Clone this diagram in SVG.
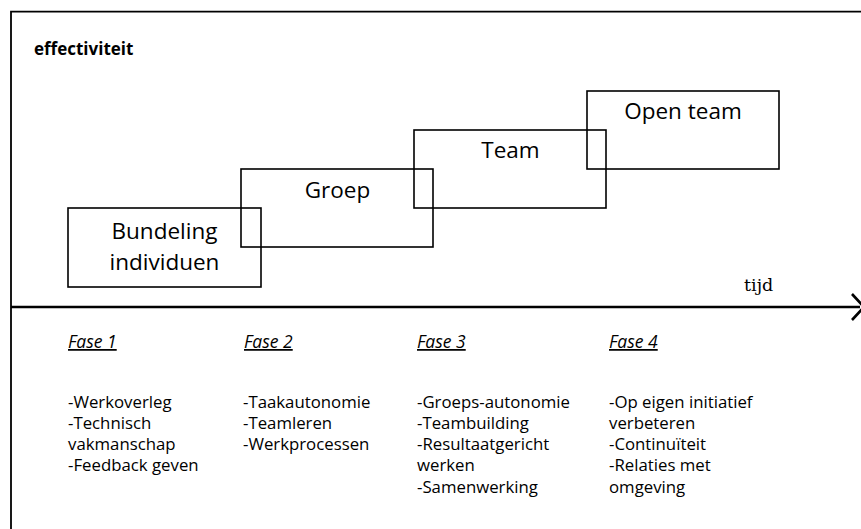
<svg xmlns="http://www.w3.org/2000/svg" width="861" height="529" viewBox="0 0 861 529">
<style>
.bg{fill:#ffffff}
.frame{fill:none;stroke:#000;stroke-width:1.8}
.box{fill:none;stroke:#000;stroke-width:1.6}
.lbl{font-family:"Open Sans","Noto Sans",sans-serif;font-size:22.5px;fill:#000;text-anchor:middle}
.title{font-family:"Open Sans","Noto Sans",sans-serif;font-size:17px;font-weight:bold;fill:#000}
.axis{fill:none;stroke:#000;stroke-width:2.6}
.tijd{font-family:"DejaVu Serif","Liberation Serif",serif;font-size:17.5px;fill:#000}
.fase{font-family:"Open Sans","Noto Sans",sans-serif;font-size:17.5px;font-style:italic;text-decoration:underline;fill:#000}
.item{font-family:"Open Sans","Noto Sans",sans-serif;font-size:16.8px;fill:#000}
</style>
<rect class="bg" x="0" y="0" width="861" height="529"/>
<path class="frame" d="M11,529 V11.7 H861"/>
<text class="title" x="34" y="55">effectiviteit</text>
<g id="connectors">
<path class="axis" d="M11,307 H860"/>
<path class="axis" d="M852,294 L864,307 L852,320"/>
<text class="tijd" x="744" y="290.5">tijd</text>
</g>
<g id="node-bundeling">
<rect class="box" x="68" y="208" width="193" height="79"/>
<text class="lbl" x="164.5" y="239">Bundeling</text>
<text class="lbl" x="164.5" y="270">individuen</text>
</g>
<g id="node-groep">
<rect class="box" x="241" y="169" width="192" height="78"/>
<text class="lbl" x="337.5" y="198">Groep</text>
</g>
<g id="node-team">
<rect class="box" x="414" y="130" width="192" height="78"/>
<text class="lbl" x="510.5" y="158">Team</text>
</g>
<g id="node-open-team">
<rect class="box" x="587" y="91" width="192" height="78"/>
<text class="lbl" x="683" y="119">Open team</text>
</g>
<g id="fase1">
<text class="fase" x="68" y="348">Fase 1</text>
<text class="item" x="68" y="407.5">-Werkoverleg</text>
<text class="item" x="68" y="428.8">-Technisch</text>
<text class="item" x="68" y="450.1">vakmanschap</text>
<text class="item" x="68" y="471.4">-Feedback geven</text>
</g>
<g id="fase2">
<text class="fase" x="244" y="348">Fase 2</text>
<text class="item" x="243" y="407.5">-Taakautonomie</text>
<text class="item" x="243" y="428.8">-Teamleren</text>
<text class="item" x="243" y="450.1">-Werkprocessen</text>
</g>
<g id="fase3">
<text class="fase" x="417" y="348">Fase 3</text>
<text class="item" x="417" y="407.5">-Groeps-autonomie</text>
<text class="item" x="417" y="428.8">-Teambuilding</text>
<text class="item" x="417" y="450.1">-Resultaatgericht</text>
<text class="item" x="417" y="471.4">werken</text>
<text class="item" x="417" y="492.7">-Samenwerking</text>
</g>
<g id="fase4">
<text class="fase" x="609" y="348">Fase 4</text>
<text class="item" x="609" y="407.5">-Op eigen initiatief</text>
<text class="item" x="609" y="428.8">verbeteren</text>
<text class="item" x="609" y="450.1">-Continuïteit</text>
<text class="item" x="609" y="471.4">-Relaties met</text>
<text class="item" x="609" y="492.7">omgeving</text>
</g>
</svg>
